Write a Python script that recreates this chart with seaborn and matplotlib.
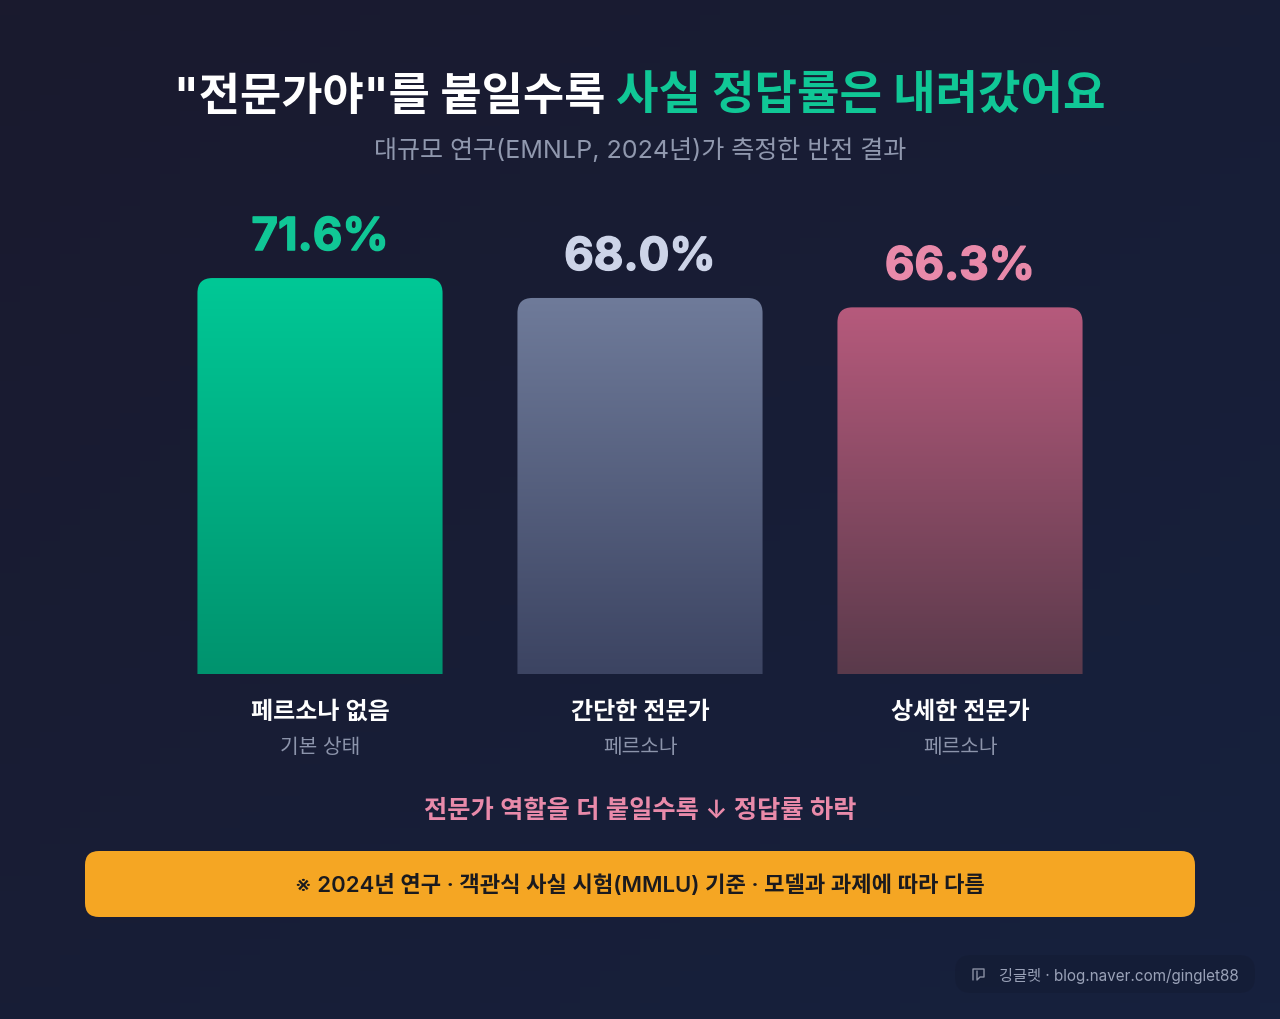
import numpy as np
import pandas as pd
import matplotlib
matplotlib.use("Agg")
import matplotlib.pyplot as plt
import matplotlib.patheffects as pe
from matplotlib.colors import LinearSegmentedColormap
from matplotlib.patches import FancyBboxPatch, PathPatch
from matplotlib.path import Path
import seaborn as sns

# Chart data
personas = ["페르소나 없음", "간단한 전문가", "상세한 전문가"]
persona_notes = ["기본 상태", "페르소나", "페르소나"]
accuracy = [71.6, 68.0, 66.3]
value_labels = ["71.6%", "68.0%", "66.3%"]

title_white = '"전문가야"를 붙일수록'
title_green = "사실 정답률은 내려갔어요"
subtitle = "대규모 연구(EMNLP, 2024년)가 측정한 반전 결과"
trend_note = "전문가 역할을 더 붙일수록 ↓ 정답률 하락"
footnote = "※ 2024년 연구 · 객관식 사실 시험(MMLU) 기준 · 모델과 과제에 따라 다름"
credit = "깅글렛 · blog.naver.com/ginglet88"

# Palette
bar_tops = ["#00C896", "#6F7B9A", "#B65A7C"]
bar_bottoms = ["#00936E", "#3C4462", "#5A3A4B"]
value_colors = ["#10C796", "#CDD4E8", "#E98AAA"]
GREEN = "#10C796"
AMBER = "#F5A623"

sns.set_theme(style="white")
plt.rcParams["font.family"] = ["Inter", "Noto Sans CJK KR", "DejaVu Sans"]

W, H = 1280, 1020
fig = plt.figure(figsize=(W / 100, H / 100), dpi=100)

# Full-canvas layer in pixel units for the backdrop and page furniture
page = fig.add_axes([0, 0, 1, 1], zorder=0)
page.set_xlim(0, W)
page.set_ylim(H, 0)
page.axis("off")
xx, yy = np.meshgrid(np.linspace(0, 1, 64), np.linspace(0, 1, 64))
page.imshow((xx + yy) / 2, extent=(0, W, H, 0), aspect="auto", zorder=0,
            cmap=LinearSegmentedColormap.from_list("page", ["#1A1A2E", "#16213E"]))
page.set_xlim(0, W)
page.set_ylim(H, 0)

# Bars: 0 sits at y=675px, one percentage point spans 5.53px
left_px, right_px, top_px, base_px = 160, 1120, 200, 675
px_per_unit = 5.53
ax = fig.add_axes([left_px / W, 1 - base_px / H, (right_px - left_px) / W,
                   (base_px - top_px) / H], zorder=1)
ax.patch.set_alpha(0)
df = pd.DataFrame({"persona": personas, "accuracy": accuracy})
sns.barplot(data=df, x="persona", y="accuracy", width=0.766, ax=ax,
            color="#888888", errorbar=None)
ax.set_xlim(-0.5, 2.5)
ax.set_ylim(0, (base_px - top_px) / px_per_unit)
ax.set_xlabel("")
ax.set_ylabel("")
ax.set_yticks([])
sns.despine(ax=ax, left=True, bottom=True)
ax.tick_params(axis="x", length=0, pad=19)
ax.set_xticks(range(len(personas)), personas, fontsize=17.3, color="white",
              fontweight="semibold")

rx = 15 / ((right_px - left_px) / 3)
ry = 15 / px_per_unit
for i, bar in enumerate(ax.patches):
    x0, w, h = bar.get_x(), bar.get_width(), bar.get_height()
    x1 = x0 + w
    # The flat bar hands its geometry over to a gradient with rounded top corners
    bar.set_alpha(0)
    verts = [(x0, 0), (x0, h - ry), (x0, h), (x0 + rx, h), (x1 - rx, h),
             (x1, h), (x1, h - ry), (x1, 0), (x0, 0)]
    codes = [Path.MOVETO, Path.LINETO, Path.CURVE3, Path.CURVE3, Path.LINETO,
             Path.CURVE3, Path.CURVE3, Path.LINETO, Path.CLOSEPOLY]
    outline = PathPatch(Path(verts, codes), transform=ax.transData,
                        facecolor="none", edgecolor="none")
    ax.add_patch(outline)
    cmap = LinearSegmentedColormap.from_list(f"bar{i}", [bar_tops[i], bar_bottoms[i]])
    img = ax.imshow(np.linspace(0, 1, 256).reshape(-1, 1), extent=(x0, x1, 0, h),
                    origin="upper", aspect="auto", cmap=cmap, zorder=2)
    img.set_clip_path(outline)
    # A thin same-colour stroke gives the percentages their heavier weight
    label = ax.annotate(value_labels[i], (i, h), xytext=(0, 19), textcoords="offset pixels",
                        ha="center", va="bottom", fontsize=32.8, fontweight="bold",
                        color=value_colors[i], zorder=3)
    label.set_path_effects([pe.withStroke(linewidth=1.0, foreground=value_colors[i])])
    ax.annotate(persona_notes[i], (i, 0), xytext=(0, -73), textcoords="offset pixels",
                ha="center", va="center", fontsize=14.6, color="#8C94AB",
                annotation_clip=False)
ax.set_xlim(-0.5, 2.5)
ax.set_ylim(0, (base_px - top_px) / px_per_unit)

# Two-colour headline
page.text(174, 98, title_white, fontsize=32.3, fontweight="bold",
          color="white", ha="left", va="center")
page.text(616, 98, title_green, fontsize=33.3, fontweight="bold",
          color=GREEN, ha="left", va="center")
page.text(640, 150, subtitle, fontsize=18.05, color="#9098AE", ha="center", va="center")

page.text(640, 811, trend_note, fontsize=18.2, fontweight="semibold", color="#E98AAA",
          ha="center", va="center")

# Amber footnote band
page.add_patch(FancyBboxPatch((85 + 14, 852 + 14), 1110 - 28, 66 - 28,
                              boxstyle="round,pad=14,rounding_size=14",
                              facecolor=AMBER, edgecolor="none", zorder=2))
page.text(640, 885, footnote, fontsize=15.95, fontweight="semibold", color="#1A1A1E",
          ha="center", va="center", zorder=3)

# Credit chip
page.add_patch(FancyBboxPatch((955 + 16, 956 + 16), 300 - 32, 38 - 32,
                              boxstyle="round,pad=16,rounding_size=16",
                              facecolor="#141B33", edgecolor="none", alpha=0.55, zorder=2))
page.text(999, 976, credit, fontsize=11.0, color="#9AA2B8", ha="left", va="center", zorder=3)
page.plot([973, 973, 984, 984, 980, 977, 977], [981, 970, 970, 978, 978, 981, 972],
          color="#8A90A4", lw=1.0, zorder=3)

fig.savefig("out.png", dpi=100, facecolor="#1A1A2E")
